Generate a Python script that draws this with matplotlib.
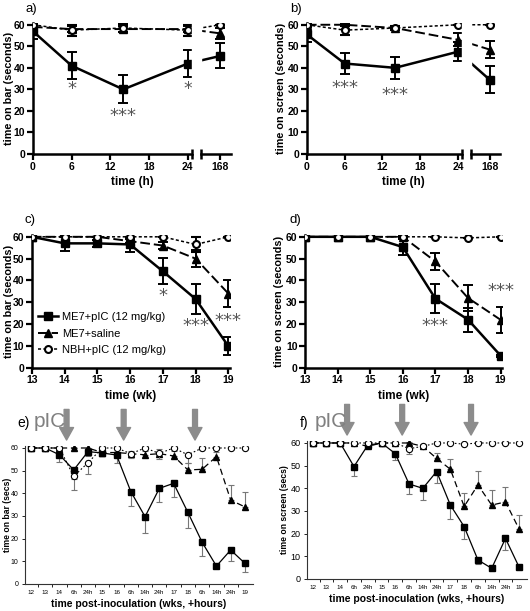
import numpy as np
import matplotlib
matplotlib.use('Agg')
import matplotlib.pyplot as plt
from matplotlib.ticker import FixedLocator, NullFormatter

plt.rcParams['font.family'] = ['Liberation Sans', 'DejaVu Sans']
plt.rcParams['font.weight'] = 'bold'
plt.rcParams['axes.labelweight'] = 'bold'

# ---- data: panels a, b (hours after pIC) ----
hours = [0, 6, 14, 24, 168]
a_pic = [57, 41, 30, 42, 45.5]
a_pic_err = [3.5, 6.3, 6.5, 6.2, 5.8]
a_sal = [59, 58, 58, 58, 56]
a_sal_err = [1, 1.5, 1.5, 1.5, 2.5]
a_nbh = [60, 57.5, 58.5, 57.5, 60]
a_nbh_err = [0, 2.5, 1.8, 2.5, 0]
a_stars = [(6, 30, '*'), (14, 17.5, '***'), (24, 30, '*')]

b_pic = [55.5, 42, 40, 47.5, 34.5]
b_pic_err = [3.5, 4.8, 5, 4.3, 6.2]
b_sal = [60, 60, 58.5, 53, 48.5]
b_sal_err = [0.5, 0.5, 0.5, 3, 4]
b_nbh = [60, 57.5, 58.5, 60, 60]
b_nbh_err = [0, 2.3, 1, 0, 0]
b_stars = [(6, 30.5, '***'), (14, 27.5, '***')]

# ---- data: panels c, d (weeks post-inoculation) ----
weeks = [13, 14, 15, 16, 17, 18, 19]
c_pic = [60, 57, 57, 56.5, 44.2, 31.5, 9.9]
c_pic_err = [0, 3.5, 1.5, 3.5, 6, 7, 4.2]
c_sal = [60, 60, 60, 58, 56, 50, 34]
c_sal_err = [0, 0, 0, 1, 1.5, 4, 6]
c_nbh = [60, 60, 60, 60, 60, 56.5, 60]
c_nbh_err = [0, 0, 0, 0, 0, 3.5, 0]
c_stars = [(17, 33, '*'), (18, 19, '***'), (19, 21.5, '***')]

d_pic = [60, 60, 60, 55.3, 31.7, 22.1, 5.6]
d_pic_err = [0, 0, 0, 3.5, 6.6, 5.5, 0.5]
d_sal = [60, 60, 60, 60, 48.7, 32, 22]
d_sal_err = [0, 0, 0, 0.5, 4, 6, 6]
d_nbh = [60, 60, 60, 60, 60, 59.5, 60]
d_nbh_err = [0, 0, 0, 0, 0, 0, 0]
d_stars = [(17, 19, '***'), (19, 35, '***')]

# ---- data: panels e, f (full time course) ----
time_labels = ['12', '13', '14', '6h', '24h', '15', '16', '6h', '14h', '24h',
               '17', '18', '6h', '14h', '24h', '19']
pic_doses = [2.5, 6.5, 11.5]

e_pic = [60, 60, 57, 50.3, 58.4, 57.8, 56.9, 40.8, 29.7, 42.2, 44.4, 31.6, 18.4, 7.9, 15, 9.1]
e_pic_err = [0, 0, 3, 4, 2, 1.5, 3.5, 6.5, 7, 6, 6, 7, 6, 0.5, 5, 4]
e_sal = [60, 60, 60, 60, 60, 58, 58, 57.5, 57, 57.5, 56.5, 50.3, 50.6, 56.2, 37, 34]
e_sal_err = [0, 0, 0, 0, 2, 0, 0, 1, 1.5, 2, 2, 3, 5, 2, 6.5, 6.5]
e_nbh = [60, 60, 60, 47.5, 53.5, 60, 60, 57.5, 60, 57.6, 60, 57, 60, 60, 60, 60]
e_nbh_err = [0, 0, 0, 6, 5, 0, 0, 2, 0, 2.5, 0, 3.5, 0, 0, 0, 0]

f_pic = [60, 60, 60, 49.6, 59, 60, 55.3, 41.9, 40, 47.4, 32.6, 23.1, 8.4, 4.7, 17.9, 5.1]
f_pic_err = [0, 0, 0, 4, 0, 0, 3, 4.5, 5, 5, 6, 5.5, 2, 0.5, 5, 0.5]
f_sal = [60, 60, 60, 60, 58.5, 60, 60, 60, 58.5, 53.2, 48.4, 32, 41.5, 32.6, 34, 21.9]
f_sal_err = [0, 0, 0, 0, 0, 0, 0, 0.5, 1, 2.5, 4.5, 6, 6, 6.5, 6.5, 6.3]
f_nbh = [60, 60, 60, 60, 60, 60, 60, 57.5, 58.5, 60, 60, 59.5, 60, 60, 60, 60]
f_nbh_err = [0, 0, 0, 0, 0, 0, 0, 2.5, 0, 0, 0, 0, 0, 0, 0, 0]

labels = ['ME7+pIC (12 mg/kg)', 'ME7+saline', 'NBH+pIC (12 mg/kg)']

fig = plt.figure(figsize=(5.3, 6.11), dpi=100)


# broken time axis: 0-24 h linear, then squeeze up to 168 h
def fwd(x):
    return np.interp(x, [-100, 24, 168, 1000], [-100, 24, 29, 29 + 832 * 5 / 144])


def inv(x):
    return np.interp(x, [-100, 24, 29, 29 + 832 * 5 / 144], [-100, 24, 168, 1000])


def style_top(ax, ylabel, xlabel, ylab_x):
    for s in ['top', 'right']:
        ax.spines[s].set_visible(False)
    for s in ['left', 'bottom']:
        ax.spines[s].set_linewidth(1.8)
    ax.tick_params(direction='out', length=4, width=1.6, labelsize=7.5, pad=1.5)
    ax.set_ylim(0, 61)
    ax.set_yticks(range(0, 61, 10))
    ax.set_ylabel(ylabel, fontsize=7.8, va='center')
    ax.yaxis.set_label_coords(ylab_x, 0.5)
    ax.set_xlabel(xlabel, fontsize=8.5, labelpad=3)


def draw_top(ax, x, pic, pic_err, sal, sal_err, nbh, nbh_err):
    h1 = ax.errorbar(x, pic, yerr=pic_err, color='black', lw=1.8, marker='s', ms=5.5,
                     capsize=3.5, elinewidth=1.4, capthick=1.4, zorder=3)
    h2 = ax.errorbar(x, sal, yerr=sal_err, color='black', lw=1.4, ls=(0, (5, 2)),
                     marker='^', ms=6, capsize=3.5, elinewidth=1.4, capthick=1.4, zorder=3)
    h3 = ax.errorbar(x, nbh, yerr=nbh_err, color='black', lw=1.1, ls=(0, (2, 1.5)),
                     marker='o', ms=5, mfc='white', mew=1.5, capsize=3.5,
                     elinewidth=1.4, capthick=1.4, zorder=4)
    return [h1[0], h2[0], h3[0]]


def stars(ax, items):
    for x, y, s in items:
        ax.text(x, y, s, ha='center', va='center', fontsize=13, color='#555555',
                fontweight='normal', family='DejaVu Sans')


def broken_axis(ax):
    ax.set_xscale('function', functions=(fwd, inv))
    ax.set_xlim(0, inv(30.7))
    ax.set_xticks([0, 6, 12, 18, 24, 168])
    ax.set_xticklabels(['0', '6', '12', '18', '24', '168'])
    ax.spines['bottom'].set_bounds(0, inv(24.6))
    ax.axvspan(inv(24.6), inv(26.0), color='white', zorder=5)
    tr = ax.get_xaxis_transform()
    ax.plot([inv(26.0), inv(30.7)], [0, 0], color='black', lw=1.8, transform=tr,
            clip_on=False, zorder=6)
    ax.plot([inv(24.6), inv(26.0)], [0, 0], ls='none', marker='|', ms=7, mew=1.8,
            color='black', transform=tr, clip_on=False, zorder=6)


# ---- panel a ----
ax_a = fig.add_axes([0.062, 0.748, 0.374, 0.215])
draw_top(ax_a, hours, a_pic, a_pic_err, a_sal, a_sal_err, a_nbh, a_nbh_err)
broken_axis(ax_a)
style_top(ax_a, 'time on bar (seconds)', 'time (h)', -0.118)
stars(ax_a, a_stars)
fig.text(0.049, 0.985, 'a)', fontsize=9.5, fontweight='normal', va='center')

# ---- panel b ----
ax_b = fig.add_axes([0.579, 0.748, 0.365, 0.215])
draw_top(ax_b, hours, b_pic, b_pic_err, b_sal, b_sal_err, b_nbh, b_nbh_err)
broken_axis(ax_b)
style_top(ax_b, 'time on screen (seconds)', 'time (h)', -0.135)
stars(ax_b, b_stars)
fig.text(0.548, 0.985, 'b)', fontsize=9.5, fontweight='normal', va='center')

# ---- panel c ----
ax_c = fig.add_axes([0.060, 0.398, 0.374, 0.218])
c_handles = draw_top(ax_c, weeks, c_pic, c_pic_err, c_sal, c_sal_err, c_nbh, c_nbh_err)
ax_c.set_xlim(13, 19.05)
ax_c.set_xticks(weeks)
style_top(ax_c, 'time on bar (seconds)', 'time (wk)', -0.115)
stars(ax_c, c_stars)
ax_c.legend(c_handles, labels, loc='upper left', bbox_to_anchor=(0.0, 0.47),
            frameon=False, prop={'size': 8, 'weight': 'normal'}, handlelength=1.8,
            handletextpad=0.3, labelspacing=0.6, borderaxespad=0.2)
fig.text(0.047, 0.640, 'c)', fontsize=9.5, fontweight='normal', va='center')

# ---- panel d ----
ax_d = fig.add_axes([0.5755, 0.398, 0.372, 0.218])
draw_top(ax_d, weeks, d_pic, d_pic_err, d_sal, d_sal_err, d_nbh, d_nbh_err)
ax_d.set_xlim(13, 19.05)
ax_d.set_xticks(weeks)
style_top(ax_d, 'time on screen (seconds)', 'time (wk)', -0.13)
stars(ax_d, d_stars)
fig.text(0.547, 0.640, 'd)', fontsize=9.5, fontweight='normal', va='center')


# ---- panels e, f ----
def draw_long(ax, pic, pic_err, sal, sal_err, nbh, nbh_err, ylabel, ylab_x, ysize):
    x = np.arange(len(time_labels))
    z = np.zeros(len(x))
    ax.errorbar(x, pic, yerr=[pic_err, z], color='black', lw=0.9, marker='s', ms=4.5,
                ecolor='#777777', elinewidth=0.8, capsize=2, capthick=0.8, zorder=3)
    ax.errorbar(x, sal, yerr=[z, sal_err], color='black', lw=0.9, ls=(0, (5, 3)),
                marker='^', ms=4.5, ecolor='#777777', elinewidth=0.8, capsize=2,
                capthick=0.8, zorder=3)
    ax.errorbar(x, nbh, yerr=[nbh_err, z], color='black', lw=0.8, ls=(0, (1.5, 2)),
                marker='o', ms=4.5, mfc='white', mew=0.8, ecolor='#777777',
                elinewidth=0.8, capsize=2, capthick=0.8, zorder=4)
    for s in ['top', 'right']:
        ax.spines[s].set_visible(False)
    for s in ['left', 'bottom']:
        ax.spines[s].set_linewidth(0.8)
        ax.spines[s].set_color('#333333')
    ax.set_ylim(0, 61)
    ax.set_yticks(range(0, 61, 10))
    ax.set_xlim(-0.42, len(x) - 0.45)
    ax.set_xticks(x)
    ax.set_xticklabels(time_labels)
    ax.xaxis.set_minor_locator(FixedLocator(x[:-1] + 0.5))
    ax.xaxis.set_minor_formatter(NullFormatter())
    ax.tick_params(axis='x', which='major', length=0, labelsize=4.5, pad=4)
    ax.tick_params(axis='x', which='minor', length=2.5, width=0.6, direction='out')
    ax.tick_params(axis='y', length=2.5, width=0.6, labelsize=ysize, pad=2)
    for t in ax.get_xticklabels() + ax.get_yticklabels():
        t.set_fontweight('normal')
    ax.set_ylabel(ylabel, fontsize=6.2, va='center')
    ax.yaxis.set_label_coords(ylab_x, 0.5)
    ax.set_xlabel('time post-inoculation (wks, +hours)', fontsize=7.5, labelpad=3)
    for d in pic_doses:
        ax.annotate('', xy=(d, 63.5), xytext=(d, 77), xycoords='data',
                    arrowprops=dict(facecolor='#8c8c8c', edgecolor='#8c8c8c',
                                    width=3.5, headwidth=10, headlength=9),
                    annotation_clip=False)


ax_e = fig.add_axes([0.047, 0.0442, 0.43, 0.2263])
draw_long(ax_e, e_pic, e_pic_err, e_sal, e_sal_err, e_nbh, e_nbh_err,
          'time on bar (secs)', -0.075, 5)
fig.text(0.032, 0.308, 'e)', fontsize=10, fontweight='normal', va='center')
fig.text(0.064, 0.310, 'pIC', fontsize=15, fontweight='normal', color='#808080',
         va='center')

ax_f = fig.add_axes([0.579, 0.0524, 0.415, 0.2263])
draw_long(ax_f, f_pic, f_pic_err, f_sal, f_sal_err, f_nbh, f_nbh_err,
          'time on screen (secs)', -0.1, 6.5)
fig.text(0.566, 0.308, 'f)', fontsize=10, fontweight='normal', va='center')
fig.text(0.594, 0.310, 'pIC', fontsize=15, fontweight='normal', color='#808080',
         va='center')

fig.savefig('out.png', dpi=100)
